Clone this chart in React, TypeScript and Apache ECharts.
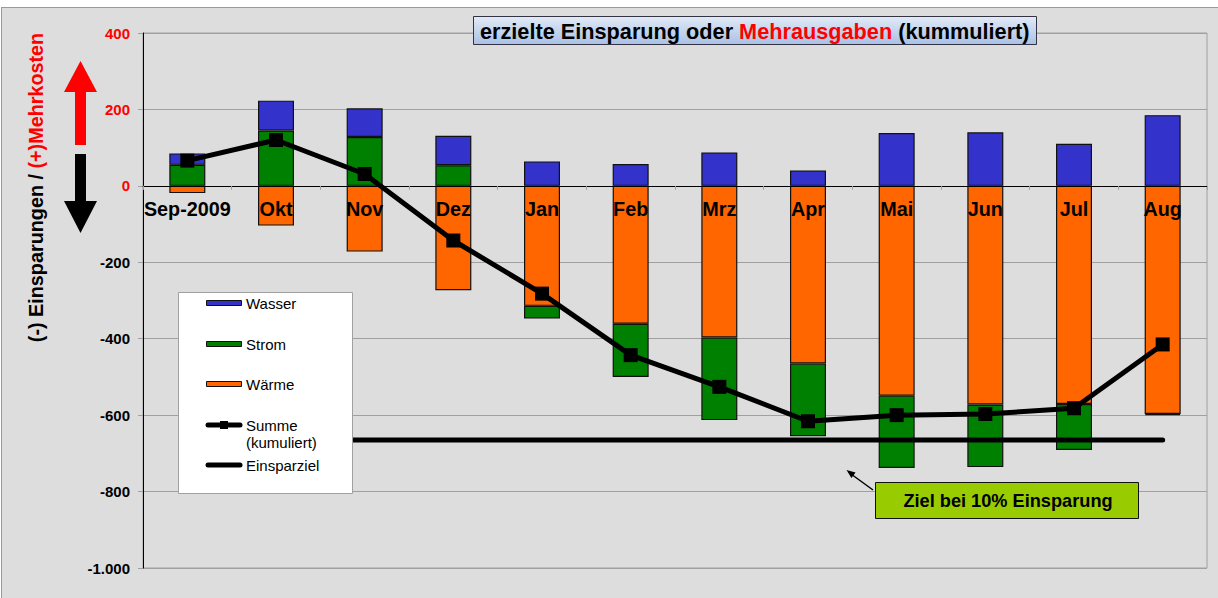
import React, { useEffect, useRef } from "react";
import * as echarts from "echarts";

const months = ["Sep-2009", "Okt", "Nov", "Dez", "Jan", "Feb", "Mrz", "Apr", "Mai", "Jun", "Jul", "Aug"];
const wasser = [30, 78, 75, 77, 64, 57, 87, 40, 138, 140, 110, 185];
const strom = [55, 145, 128, 54, -33, -139, -216, -190, -189, -164, -120, -3];
const waerme = [-19, -104, -172, -273, -314, -361, -397, -465, -549, -572, -571, -597];
const summe = [66, 120, 31, -143, -282, -443, -526, -616, -600, -597, -582, -415];
const einsparziel = [-665, -665, -665, -665, -665, -665, -665, -665, -665, -665, -665, -665];
const yTicks = { min: -1000, max: 400, interval: 200 };

const FONT = "'Liberation Sans', Arial, sans-serif";

function fmt(v: number) {
  const s = Math.abs(v).toString().replace(/\B(?=(\d{3})+(?!\d))/g, ".");
  return (v < 0 ? "-" : "") + s;
}

export default function App() {
  const ref = useRef<HTMLDivElement>(null);
  useEffect(() => {
    if (!ref.current) return;
    const chart = echarts.init(ref.current, undefined, { renderer: "svg" });
    const gridTop = 33;
    const gridBottom = 30;
    const plotH = 598 - gridTop - gridBottom;
    const zeroOffset = -plotH * (0 - yTicks.min) / (yTicks.max - yTicks.min);
    const barBase = {
      type: "bar",
      stack: "total",
      barWidth: 36,
      z: 2,
    };
    const legendItems: any[] = [];
    const legY = [303, 344, 384, 425, 465];
    const legendBox = {
      type: "rect",
      z: 100,
      shape: { x: 178.5, y: 292.5, width: 174, height: 201 },
      style: { fill: "#ffffff", stroke: "#a0a0a0", lineWidth: 1 },
    };
    const barLeg = [
      { name: "Wasser", color: "#3333cc" },
      { name: "Strom", color: "#008000" },
      { name: "Wärme", color: "#ff6600" },
    ];
    barLeg.forEach((b, i) => {
      legendItems.push({
        type: "rect",
        z: 101,
        shape: { x: 206.5, y: legY[i] - 2.5, width: 35, height: 5 },
        style: { fill: b.color, stroke: "#111", lineWidth: 1 },
      });
      legendItems.push({
        type: "text",
        z: 101,
        x: 246,
        y: legY[i],
        style: { text: b.name, font: `15px ${FONT}`, fill: "#000", verticalAlign: "middle", align: "left" },
      });
    });
    legendItems.push({
      type: "line",
      z: 101,
      shape: { x1: 208, y1: legY[3], x2: 240, y2: legY[3] },
      style: { stroke: "#000", lineWidth: 5, lineCap: "round" },
    });
    legendItems.push({
      type: "rect",
      z: 102,
      shape: { x: 220, y: legY[3] - 4, width: 8, height: 8 },
      style: { fill: "#000" },
    });
    legendItems.push({
      type: "text",
      z: 101,
      x: 246,
      y: legY[3] - 8,
      style: { text: "Summe\n(kumuliert)", font: `15px ${FONT}`, lineHeight: 17, fill: "#000", verticalAlign: "top", align: "left" },
    });
    legendItems.push({
      type: "line",
      z: 101,
      shape: { x1: 208, y1: legY[4], x2: 240, y2: legY[4] },
      style: { stroke: "#000", lineWidth: 5, lineCap: "round" },
    });
    legendItems.push({
      type: "text",
      z: 101,
      x: 246,
      y: legY[4],
      style: { text: "Einsparziel", font: `15px ${FONT}`, fill: "#000", verticalAlign: "middle", align: "left" },
    });

    const option: any = {
      animation: false,
      backgroundColor: "transparent",
      textStyle: { fontFamily: FONT },
      title: {
        left: 473,
        top: 16,
        padding: [4, 7, 3, 7],
        borderColor: "#333344",
        borderWidth: 1,
        backgroundColor: {
          type: "linear",
          x: 0,
          y: 0,
          x2: 0,
          y2: 1,
          colorStops: [
            { offset: 0, color: "#e2eaf6" },
            { offset: 1, color: "#a9c1e6" },
          ],
        },
        text: "{a|erzielte Einsparung oder }{b|Mehrausgaben}{a| (kummuliert)}",
        textStyle: {
          rich: {
            a: { fontSize: 21.7, fontWeight: "bold", color: "#000", fontFamily: FONT, lineHeight: 22 },
            b: { fontSize: 21.7, fontWeight: "bold", color: "#ff0000", fontFamily: FONT, lineHeight: 22 },
          },
        },
      },
      grid: {
        left: 143,
        top: gridTop,
        right: 11,
        bottom: gridBottom,
        show: true,
        borderColor: "#a0a0a0",
        borderWidth: 1,
        backgroundColor: "transparent",
        containLabel: false,
      },
      xAxis: {
        type: "category",
        data: months,
        z: 3,
        offset: zeroOffset,
        axisLine: { onZero: false, lineStyle: { color: "#000", width: 1 } },
        axisTick: { show: true, length: 4, lineStyle: { color: "#a0a0a0" } },
        axisLabel: {
          color: "#000",
          fontWeight: "bold",
          fontSize: 19.8,
          fontFamily: FONT,
          margin: 13,
          interval: 0,
        },
        splitLine: { show: false },
      },
      yAxis: {
        type: "value",
        min: yTicks.min,
        max: yTicks.max,
        interval: yTicks.interval,
        axisLine: { show: true, lineStyle: { color: "#000", width: 1 } },
        axisTick: { show: true, length: 5, lineStyle: { color: "#a0a0a0" } },
        axisLabel: {
          margin: 13,
          fontSize: 15,
          fontWeight: "bold",
          fontFamily: FONT,
          formatter: (v: number) => fmt(v),
          color: (v: any) => (Number(v) >= 0 ? "#ff0000" : "#000000"),
        },
        splitLine: { show: true, lineStyle: { color: "#a0a0a0", width: 1 } },
      },
      series: [
        { ...barBase, name: "Wärme", data: waerme, itemStyle: { color: "#ff6600", borderColor: "#111", borderWidth: 1.2 } },
        { ...barBase, name: "Strom", data: strom, itemStyle: { color: "#008000", borderColor: "#111", borderWidth: 1.2 } },
        { ...barBase, name: "Wasser", data: wasser, itemStyle: { color: "#3333cc", borderColor: "#111", borderWidth: 1.2 } },
        {
          type: "line",
          name: "Einsparziel",
          data: einsparziel,
          z: 4,
          symbol: "none",
          lineStyle: { color: "#000", width: 5, cap: "round" },
          itemStyle: { color: "#000" },
        },
        {
          type: "line",
          name: "Summe (kumuliert)",
          data: summe,
          z: 5,
          symbol: "rect",
          symbolSize: 14,
          lineStyle: { color: "#000", width: 5 },
          itemStyle: { color: "#000" },
        },
      ],
      graphic: [
        {
          type: "text",
          z: 50,
          x: 36,
          y: 187.5,
          rotation: Math.PI / 2,
          style: {
            text: "{a|(-) Einsparungen / }{b|(+)Mehrkosten}",
            align: "center",
            verticalAlign: "middle",
            rich: {
              a: { fontSize: 19.8, fontWeight: "bold", fill: "#000", fontFamily: FONT },
              b: { fontSize: 19.8, fontWeight: "bold", fill: "#ff0000", fontFamily: FONT },
            },
          },
        },
        {
          type: "polygon",
          z: 50,
          shape: { points: [[80.5, 61], [97, 92], [86, 92], [86, 145], [75, 145], [75, 92], [64, 92]] },
          style: { fill: "#ff0000" },
        },
        {
          type: "polygon",
          z: 50,
          shape: { points: [[75, 154], [86, 154], [86, 201], [97, 201], [80.5, 233], [64, 201], [75, 201]] },
          style: { fill: "#000000" },
        },
        legendBox,
        ...legendItems,
        {
          type: "rect",
          z: 100,
          shape: { x: 875.5, y: 482.5, width: 263, height: 36 },
          style: { fill: "#99cc00", stroke: "#111", lineWidth: 1 },
        },
        {
          type: "text",
          z: 101,
          x: 1008,
          y: 501,
          style: { text: "Ziel bei 10% Einsparung", font: `bold 18.2px ${FONT}`, fill: "#000", align: "center", verticalAlign: "middle" },
        },
        {
          type: "line",
          z: 100,
          shape: { x1: 873, y1: 490, x2: 851, y2: 474 },
          style: { stroke: "#000", lineWidth: 1.5 },
        },
        {
          type: "polygon",
          z: 100,
          shape: { points: [[846.5, 470], [855.6, 472.4], [851.4, 478]] },
          style: { fill: "#000" },
        },
      ],
    };
    chart.setOption(option);
    return () => chart.dispose();
  }, []);

  return (
    <div style={{ position: "fixed", left: 0, top: 0, width: 1218, height: 598, background: "#ffffff", overflow: "hidden" }}>
      <div
        style={{
          position: "absolute",
          left: 1,
          top: 7,
          width: 1240,
          height: 620,
          background: "#dddddd",
          border: "1px solid #999999",
        }}
      />
      <div ref={ref} style={{ position: "absolute", left: 0, top: 0, width: 1218, height: 598 }} />
    </div>
  );
}
